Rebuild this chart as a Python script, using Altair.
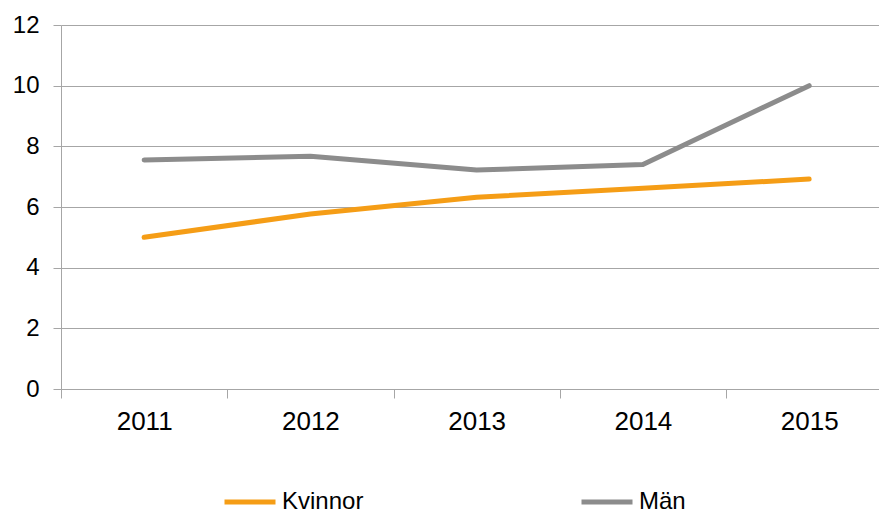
import altair as alt
import pandas as pd

years = [2011, 2012, 2013, 2014, 2015]
kvinnor = [5.0, 5.77, 6.32, 6.62, 6.92]
man = [7.55, 7.67, 7.22, 7.40, 10.0]
series = ["Kvinnor", "Män"]
colors = ["#F59D16", "#8C8C8C"]
y_ticks = [0, 2, 4, 6, 8, 10, 12]

df = pd.DataFrame({
    "year": years * 2,
    "value": kvinnor + man,
    "serie": [series[0]] * len(years) + [series[1]] * len(years),
})

x_tick_values = [y - 0.5 for y in years] + years
FONT = "Liberation Sans"
GRID = "#A6A6A6"

chart = alt.Chart(df).mark_line(strokeWidth=5, strokeCap="round", strokeJoin="round").encode(
    x=alt.X(
        "year:Q",
        scale=alt.Scale(domain=[2010.5, 2015.42], nice=False, zero=False),
        axis=alt.Axis(
            values=x_tick_values,
            labelExpr="abs(datum.value - round(datum.value)) < 0.01 ? format(datum.value, 'd') : ''",
            tickSize=9,
            tickOpacity={"condition": {"test": "abs(datum.value - round(datum.value)) < 0.01", "value": 0}, "value": 1},
            labelPadding=10,
            labelFontSize=26,
            labelFont=FONT,
            labelColor="#000000",
            domainColor=GRID,
            tickColor=GRID,
            grid=False,
            title=None,
            labelFlush=False,
            labelOverlap=False,
        ),
    ),
    y=alt.Y(
        "value:Q",
        scale=alt.Scale(domain=[0, 12], nice=False),
        axis=alt.Axis(
            values=y_ticks,
            tickSize=8,
            labelPadding=14,
            labelFontSize=24,
            labelFont=FONT,
            labelColor="#000000",
            domainColor=GRID,
            tickColor=GRID,
            gridColor=GRID,
            grid=True,
            title=None,
        ),
    ),
    color=alt.Color(
        "serie:N",
        scale=alt.Scale(domain=series, range=colors),
        legend=alt.Legend(
            orient="none",
            legendX=161,
            legendY=449,
            direction="horizontal",
            columns=2,
            columnPadding=207,
            symbolType="stroke",
            symbolSize=2601,
            symbolStrokeWidth=5,
            labelFontSize=24,
            labelFont=FONT,
            labelColor="#000000",
            labelOffset=4,
            title=None,
        ),
    ),
).properties(
    width=818,
    height=364,
    autosize=alt.AutoSizeParams(type="none"),
    padding={"left": 53, "top": 17, "right": 0, "bottom": 123},
).configure_view(stroke=None)

chart.save("out.html", embed_options={"renderer": "svg", "actions": False})
